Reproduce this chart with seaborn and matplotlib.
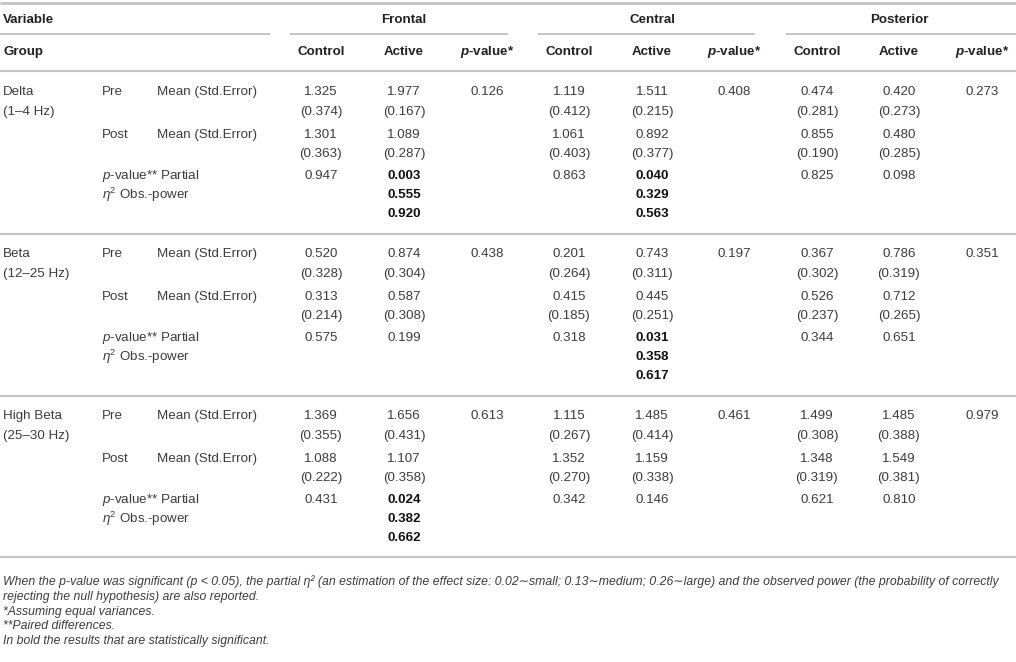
import matplotlib
matplotlib.use("Agg")
import matplotlib.pyplot as plt
import seaborn as sns

# ---- data -----------------------------------------------------------------
bands = ["Delta", "Beta", "High Beta"]
band_ranges = ["(1–4 Hz)", "(12–25 Hz)", "(25–30 Hz)"]
regions = ["Frontal", "Central", "Posterior"]
groups = ["Control", "Active"]

# rows: bands, columns: regions
pre_control = [[1.325, 1.119, 0.474], [0.520, 0.201, 0.367], [1.369, 1.115, 1.499]]
pre_control_se = [[0.374, 0.412, 0.281], [0.328, 0.264, 0.302], [0.355, 0.267, 0.308]]
pre_active = [[1.977, 1.511, 0.420], [0.874, 0.743, 0.786], [1.656, 1.485, 1.485]]
pre_active_se = [[0.167, 0.215, 0.273], [0.304, 0.311, 0.319], [0.431, 0.414, 0.388]]
post_control = [[1.301, 1.061, 0.855], [0.313, 0.415, 0.526], [1.088, 1.352, 1.348]]
post_control_se = [[0.363, 0.403, 0.190], [0.214, 0.185, 0.237], [0.222, 0.270, 0.319]]
post_active = [[1.089, 0.892, 0.480], [0.587, 0.445, 0.712], [1.107, 1.159, 1.549]]
post_active_se = [[0.287, 0.377, 0.285], [0.308, 0.251, 0.265], [0.358, 0.338, 0.381]]
p_between = [[0.126, 0.408, 0.273], [0.438, 0.197, 0.351], [0.613, 0.461, 0.979]]
p_paired_control = [[0.947, 0.863, 0.825], [0.575, 0.318, 0.344], [0.431, 0.342, 0.621]]
p_paired_active = [[0.003, 0.040, 0.098], [0.199, 0.031, 0.651], [0.024, 0.146, 0.810]]
partial_eta_active = [[0.555, 0.329, None], [None, 0.358, None], [0.382, None, None]]
obs_power_active = [[0.920, 0.563, None], [None, 0.617, None], [0.662, None, None]]

footnotes = [
    "When the p-value was significant (p < 0.05), the partial η² (an estimation of the effect size: "
    "0.02∼small; 0.13∼medium; 0.26∼large) and the observed power (the probability of correctly",
    "rejecting the null hypothesis) are also reported.",
    "*Assuming equal variances.",
    "**Paired differences.",
    "In bold the results that are statistically significant.",
]

# ---- style ----------------------------------------------------------------
sns.set_theme(style="white")
plt.rcParams["font.family"] = ["Liberation Sans", "DejaVu Sans"]
plt.rcParams["mathtext.fontset"] = "custom"
plt.rcParams["mathtext.rm"] = "Liberation Sans"
plt.rcParams["mathtext.it"] = "Liberation Sans:italic"
plt.rcParams["mathtext.bf"] = "Liberation Sans:bold:italic"

TXT = "#3c3c3c"
HDR = "#222222"
LINE = "#c4c4c4"
FS = 9.6

fig = plt.figure(figsize=(10.16, 6.62), dpi=100)
ax = fig.add_axes([0, 0, 1, 1])
ax.set_xlim(0, 1016)
ax.set_ylim(662, 0)
ax.axis("off")

col_x = [(321, 404, 487), (569, 652, 734), (817, 899, 982)]
region_span = [(290, 508), (538, 755), (786, 1016)]


def hline(y, x0=0, x1=1016, lw=1.6):
    ax.plot([x0, x1], [y, y], color=LINE, lw=lw, solid_capstyle="butt")


# header
hline(3, lw=2.0)
ax.text(3, 20, "Variable", fontsize=FS, fontweight="bold", color=HDR, va="center")
hline(34, 0, 270, lw=1.4)
for r, name in enumerate(regions):
    ax.text(col_x[r][1], 20, name, fontsize=FS, fontweight="bold", color=HDR,
            ha="center", va="center")
    hline(34, *region_span[r], lw=1.4)
    ax.text(col_x[r][0], 52, groups[0], fontsize=FS, fontweight="bold", color=HDR,
            ha="center", va="center")
    ax.text(col_x[r][1], 52, groups[1], fontsize=FS, fontweight="bold", color=HDR,
            ha="center", va="center")
    ax.text(col_x[r][2], 52, r"$\mathbf{p}$-value*", fontsize=FS, fontweight="bold",
            color=HDR, ha="center", va="center")
ax.text(3, 52, "Group", fontsize=FS, fontweight="bold", color=HDR, va="center")
hline(71)


def val(x, y, v, fmt="{:.3f}", bold=False):
    ax.text(x, y, fmt.format(v), fontsize=FS, ha="center", va="center",
            color="#111111" if bold else TXT, fontweight="bold" if bold else "normal")


for b in range(len(bands)):
    y0 = 92 + 162 * b
    ax.text(3, y0, bands[b], fontsize=FS, color=TXT, va="center")
    ax.text(3, y0 + 20, band_ranges[b], fontsize=FS, color=TXT, va="center")
    ax.text(102, y0, "Pre", fontsize=FS, color=TXT, va="center")
    ax.text(157, y0, "Mean (Std.Error)", fontsize=FS, color=TXT, va="center")
    ax.text(102, y0 + 43, "Post", fontsize=FS, color=TXT, va="center")
    ax.text(157, y0 + 43, "Mean (Std.Error)", fontsize=FS, color=TXT, va="center")
    ax.text(102, y0 + 84, r"$p$-value** Partial", fontsize=FS, color=TXT, va="center")
    ax.text(102, y0 + 103, r"$\eta^2$ Obs.-power", fontsize=FS, color=TXT, va="center")
    for r in range(len(regions)):
        xc, xa, xp = col_x[r]
        val(xc, y0, pre_control[b][r])
        val(xc, y0 + 20, pre_control_se[b][r], "({:.3f})")
        val(xa, y0, pre_active[b][r])
        val(xa, y0 + 20, pre_active_se[b][r], "({:.3f})")
        val(xp, y0, p_between[b][r])
        val(xc, y0 + 43, post_control[b][r])
        val(xc, y0 + 62, post_control_se[b][r], "({:.3f})")
        val(xa, y0 + 43, post_active[b][r])
        val(xa, y0 + 62, post_active_se[b][r], "({:.3f})")
        val(xc, y0 + 84, p_paired_control[b][r], bold=p_paired_control[b][r] < 0.05)
        sig = p_paired_active[b][r] < 0.05
        val(xa, y0 + 84, p_paired_active[b][r], bold=sig)
        if partial_eta_active[b][r] is not None:
            val(xa, y0 + 103, partial_eta_active[b][r], bold=True)
            val(xa, y0 + 122, obs_power_active[b][r], bold=True)
    hline(y0 + 141 if b == len(bands) - 1 else y0 + 142)

# footnotes
for i, line in enumerate(footnotes):
    ax.text(3, 582 + 14.8 * i, line, fontsize=8.8, style="italic", color=TXT, va="center",
            family=["Liberation Sans Narrow", "Liberation Sans", "DejaVu Sans"])

fig.savefig("out.png", dpi=100)
